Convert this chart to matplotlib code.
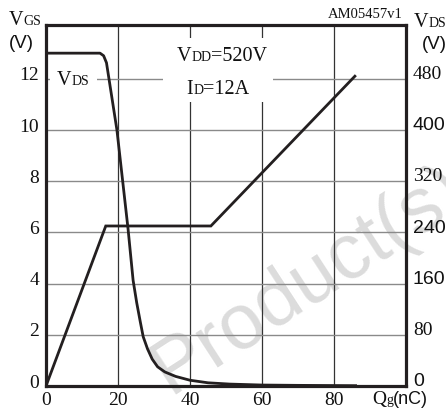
import matplotlib
matplotlib.use('Agg')
import matplotlib.pyplot as plt
from matplotlib.patches import Rectangle
from matplotlib.transforms import IdentityTransform, ScaledTranslation

plt.rcParams['font.family'] = ['Liberation Serif', 'DejaVu Serif']

# gate charge (nC) vs gate-source voltage (V)
qg_vgs = [0, 16.6, 45.8, 85.8]
vgs = [0, 6.25, 6.25, 12.1]

# gate charge (nC) vs drain-source voltage (V)
qg_vds = [0, 15.0, 16.0, 16.8, 19.7, 22.8, 24.2, 25.2, 26.2, 27.0, 28.2,
          29.5, 31.0, 33.0, 36.0, 40.0, 45.0, 51.0, 60.0, 70.0, 86.0]
vds = [520, 520, 516, 505, 400, 245, 165, 130, 100, 77, 58,
       42, 30, 22, 15, 9, 5, 3, 1.5, 1, 0.5]

qg_ticks = [0, 20, 40, 60, 80]
vgs_ticks = [0, 2, 4, 6, 8, 10, 12]
vds_ticks = [0, 80, 160, 240, 320, 400, 480]
vds_tick_fonts = ['Liberation Sans', 'Liberation Serif', 'Liberation Sans', 'Liberation Sans',
                  'Liberation Serif', 'Liberation Sans', 'Liberation Serif']

ink = '#231f20'
W, H = 446, 412

fig = plt.figure(figsize=(W / 100, H / 100), dpi=100)
ax = fig.add_axes([46 / W, 26 / H, 360 / W, 361 / H])
ax.set_facecolor('none')
ax.set_xlim(0, 100)
ax.set_ylim(0, 14.1)
ax.set_xticks(qg_ticks)
ax.set_yticks(vgs_ticks)
ax.tick_params(length=0, labelsize=14, colors='#111111')
ax.tick_params(axis='y', pad=5)
ax.tick_params(axis='x', pad=4)
ax.set_axisbelow(True)
ax.yaxis.grid(True, color='#8a8a8a', lw=1.0)
ax.xaxis.grid(True, color='#333333', lw=0.9)
for s in ax.spines.values():
    s.set_linewidth(2.3)
    s.set_color(ink)

# white patches where labels cut through the grid
ax.add_patch(Rectangle((1.1, 11.6), 13.1, 0.8, facecolor='white', edgecolor='none', zorder=1))
ax.add_patch(Rectangle((32.5, 11.1), 30.5, 2.5, facecolor='white', edgecolor='none', zorder=1))

ax.plot(qg_vgs, vgs, color=ink, lw=2.0, zorder=3, solid_joinstyle='miter')

ax2 = ax.twinx()
ax2.set_ylim(0, 14.1 * 40)
ax2.set_yticks(vds_ticks)
ax2.tick_params(length=0, labelsize=14, pad=5, colors='#111111')
for lab, fam in zip(ax2.get_yticklabels(), vds_tick_fonts):
    lab.set_family(fam)
for s in ax2.spines.values():
    s.set_visible(False)
ax2.plot(qg_vds, vds, color=ink, lw=2.0, zorder=3)

# y tick labels sit a little above their grid lines
lift = ScaledTranslation(0, 3.5 / 72, fig.dpi_scale_trans)
for lab in ax.get_yticklabels():
    lab.set_transform(lab.get_transform() + lift)
lift_r = ScaledTranslation(0, 4.5 / 72, fig.dpi_scale_trans)
for lab in ax2.get_yticklabels():
    lab.set_transform(lab.get_transform() + lift_r)

# faint diagonal watermark behind the plot
fig.text(170, H - 395, 'Product(s)', transform=IdentityTransform(), fontsize=56,
         family='Liberation Sans', color='#dcdcdc', rotation=33, rotation_mode='anchor',
         ha='left', va='baseline', zorder=-1)


def label(x, y, parts, ha='left'):
    # parts: (text, size, family); x, y in pixels from top-left, y is the baseline
    r = fig.canvas.get_renderer()
    arts = [fig.text(0, 0, s, fontsize=size, family=fam, color='#111111',
                     transform=IdentityTransform(), va='baseline') for s, size, fam in parts]
    widths = [a.get_window_extent(r).width for a in arts]
    x0 = x - sum(widths) / 2 if ha == 'center' else x
    for a, w in zip(arts, widths):
        a.set_position((x0, H - y))
        x0 += w


serif, sans = 'Liberation Serif', 'Liberation Sans'
label(9, 25, [('V', 14.5, serif), ('GS', 10, serif)])
label(9, 48, [('(V)', 13.5, sans)])
label(414, 27, [('V', 14.5, serif), ('DS', 10, serif)])
label(422, 49, [('(V)', 13.5, sans)])
label(57, 85, [('V', 14.5, serif), ('DS', 10, serif)])
label(222, 61, [('V', 14.5, serif), ('DD', 10, serif), ('=520V', 14.5, serif)], ha='center')
label(218, 94, [('I', 14.5, serif), ('D', 10, serif), ('=12A', 14.5, serif)], ha='center')
label(372, 404, [('Q', 14, serif), ('g', 10, serif), ('(nC)', 13, sans)])
label(328, 18, [('AM05457v1', 10.5, serif)])

fig.savefig('out.png', dpi=100)
